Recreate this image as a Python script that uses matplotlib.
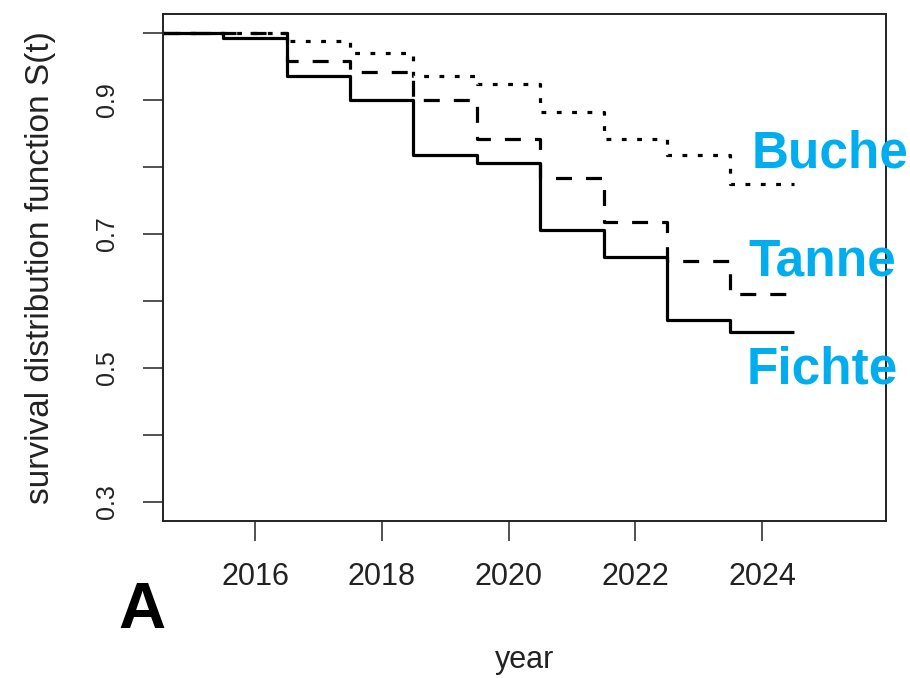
import matplotlib
matplotlib.use("Agg")
import matplotlib.pyplot as plt

plt.rcParams['font.family'] = ['Liberation Sans', 'DejaVu Sans']

# Survival estimates per yearly interval (interval edges in years)
edges = [2014.5, 2015.5, 2016.5, 2017.5, 2018.5, 2019.5,
         2020.5, 2021.5, 2022.5, 2023.5, 2024.5]
fichte = [1.0, 0.9915, 0.936, 0.900, 0.818, 0.806, 0.705, 0.665, 0.571, 0.554]
tanne = [1.0, 1.0, 0.958, 0.942, 0.899, 0.841, 0.784, 0.718, 0.659, 0.610]
buche = [1.0, 1.0, 0.988, 0.970, 0.936, 0.924, 0.881, 0.841, 0.817, 0.775]
species = ["Buche", "Tanne", "Fichte"]

x_ticks = [2016, 2018, 2020, 2022, 2024]
y_ticks = [0.3, 0.4, 0.5, 0.6, 0.7, 0.8, 0.9, 1.0]
y_labeled = [0.3, 0.5, 0.7, 0.9]

fig = plt.figure(figsize=(9.10, 6.78), dpi=100)
ax = fig.add_axes([0.1791, 0.2320, 0.7940, 0.7474])

lw = 2.3
def draw(vals, ls):
    ax.step(edges, list(vals) + [vals[-1]], where='post', color='black',
            lw=lw, linestyle=ls, solid_capstyle='butt', dash_capstyle='butt')

draw(buche, (0, (1.5, 3.3)))
draw(tanne, (0, (5.0, 4.4)))
draw(fichte, '-')

ax.set_xlim(2014.548, 2025.949)
ax.set_ylim(0.272, 1.028)

ax.set_xticks(x_ticks)
ax.set_xticklabels([str(t) for t in x_ticks], fontsize=22, color='#222222')
ax.set_yticks(y_ticks)
ax.set_yticklabels([f"{t:.1f}" if any(abs(t - v) < 1e-9 for v in y_labeled) else ""
                    for t in y_ticks], rotation=90, va='center', fontsize=18,
                   color='#222222')
ax.tick_params(axis='both', length=14.4, width=1.1, color='#222222')
ax.tick_params(axis='x', pad=15)
ax.tick_params(axis='y', pad=17)

for s in ax.spines.values():
    s.set_linewidth(1.4)
    s.set_color('#222222')

ax.set_xlabel("year", fontsize=22, color='#222222', va='center')
ax.xaxis.set_label_coords(0.5, (521 - 660) / 507.0)
ax.set_ylabel("survival distribution function S(t)", fontsize=24,
              color='#222222', va='center')
ax.yaxis.set_label_coords((41 - 163) / 722.5, 0.5)

# Species names next to the curve ends
blue = '#00AEEF'
for name, x_px, base_px in zip(species, [752, 748, 747], [167, 275, 383]):
    fig.text(x_px / 910, 1 - base_px / 678, name, color=blue, fontsize=37,
             fontweight='bold', ha='left', va='baseline', zorder=10)

fig.text(118 / 910, 1 - 628 / 678, "A", fontsize=47, fontweight='bold',
         color='black', ha='left', va='baseline')

fig.savefig("out.png", dpi=100, facecolor='white')
